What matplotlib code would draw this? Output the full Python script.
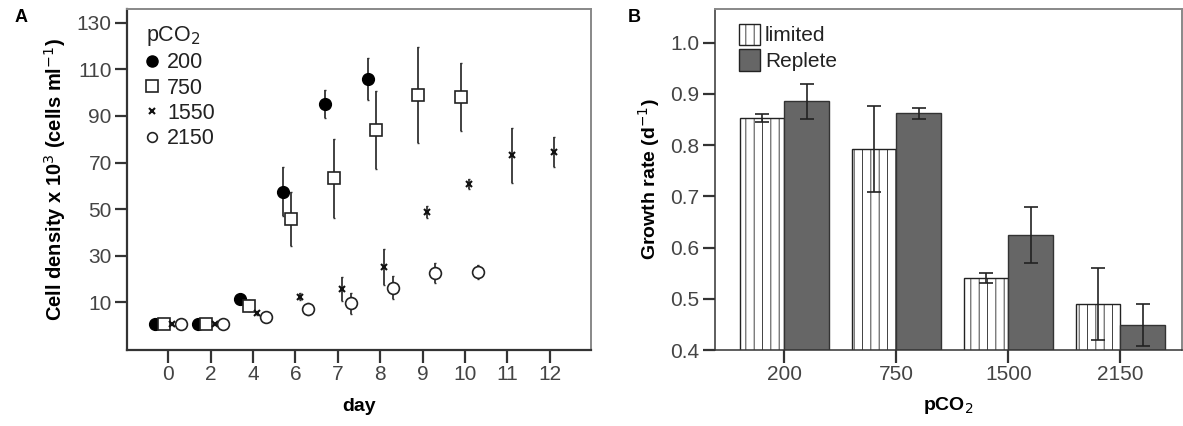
import numpy as np
import matplotlib.pyplot as plt
from matplotlib.lines import Line2D
from matplotlib.patches import Patch

plt.rcParams['font.family'] = ['Liberation Sans', 'DejaVu Sans']
plt.rcParams['hatch.linewidth'] = 0.6
plt.rcParams['hatch.color'] = '#a0a0a0'

# Panel A: cell density per sampling day
days = ['0', '2', '4', '6', '7', '8', '9', '10', '11', '12']

d200 = [0.5, 0.5, 11.5, 57.5, 95.0, 106.0]
e200 = [0.5, 0.5, 0.5, 10.5, 6.0, 9.0]
d750 = [0.5, 0.5, 8.5, 45.7, 63.3, 84.0, 99.0, 98.0]
e750 = [0.5, 0.5, 2.5, 11.7, 17.0, 16.7, 20.6, 14.6]
d1550 = [0.5, 0.5, 5.3, 12.2, 15.6, 25.0, 48.7, 60.8, 73.2, 74.5]
e1550 = [0.3, 0.3, 1.0, 1.5, 5.3, 7.7, 2.5, 2.0, 11.8, 6.3]
d2150 = [0.5, 0.5, 3.5, 7.0, 9.5, 16.2, 22.5, 23.0]
e2150 = [0.5, 0.5, 1.0, 2.5, 4.5, 5.0, 4.3, 3.0]

# Panel B: growth rates
pco2 = ['200', '750', '1500', '2150']
limited = [0.853, 0.792, 0.540, 0.490]
limited_err = [0.008, 0.084, 0.010, 0.071]
replete = [0.886, 0.862, 0.625, 0.449]
replete_err = [0.034, 0.010, 0.055, 0.041]

fig = plt.figure(figsize=(11.83, 4.26), dpi=100)
axA = fig.add_axes([0.1074, 0.1784, 0.3922, 0.8005])
axB = fig.add_axes([0.6044, 0.1784, 0.3948, 0.8005])

tick_col = '#444444'

series = [
    (d200, e200, -0.30, dict(marker='o', ms=8.5, mfc='black', mec='black')),
    (d750, e750, -0.10, dict(marker='s', ms=9, mfc='white', mec='#222222', mew=1.2)),
    (d1550, e1550, 0.10, dict(marker='x', ms=5, mec='#111111', mew=1.5)),
    (d2150, e2150, 0.30, dict(marker='o', ms=8.5, mfc='white', mec='#222222', mew=1.2)),
]
for vals, errs, off, style in series:
    x = np.arange(len(vals)) + off
    axA.errorbar(x, vals, yerr=errs, fmt='none', ecolor='#333333', elinewidth=1.3, capsize=1, zorder=2)
    axA.plot(x, vals, linestyle='none', zorder=3, **style)

axA.set_xlim(-0.97, 9.97)
axA.set_ylim(-10.6, 136)
axA.set_xticks(range(len(days)))
axA.set_xticklabels(days)
axA.set_yticks([10, 30, 50, 70, 90, 110, 130])
axA.set_xlabel('day', fontsize=14, fontweight='bold', labelpad=10)
axA.set_ylabel('Cell density x 10$^{3}$ (cells ml$^{-1}$)', fontsize=14.5, fontweight='bold', labelpad=6)

handles = [
    Line2D([], [], linestyle='none', marker='o', ms=8, mfc='black', mec='black'),
    Line2D([], [], linestyle='none', marker='s', ms=8, mfc='white', mec='#222222', mew=1.2),
    Line2D([], [], linestyle='none', marker='x', ms=5, mec='#111111', mew=1.5),
    Line2D([], [], linestyle='none', marker='o', ms=7, mfc='white', mec='#222222', mew=1.2),
]
legA = axA.legend(handles, ['200', '750', '1550', '2150'], title='pCO$_2$', loc='upper left',
                  frameon=False, fontsize=15.5, title_fontsize=15.5, handlelength=0.6,
                  handletextpad=0.4, labelspacing=0.2, borderaxespad=0.3,
                  bbox_to_anchor=(0.008, 1.0))
legA._legend_box.align = 'left'
for t in legA.get_texts():
    t.set_color('#222222')
legA.get_title().set_color('#222222')

# grouped bars
x = np.arange(len(pco2))
w = 0.4
axB.bar(x - w / 2, limited, w, color='white', edgecolor='#222222', hatch='||',
        linewidth=1.0, zorder=2)
axB.bar(x + w / 2, replete, w, color='#666666', edgecolor='#333333', linewidth=1.0, zorder=2)
axB.errorbar(x - w / 2, limited, yerr=limited_err, fmt='none', ecolor='#222222',
             elinewidth=1.2, capsize=5, capthick=1.2, zorder=3)
axB.errorbar(x + w / 2, replete, yerr=replete_err, fmt='none', ecolor='#222222',
             elinewidth=1.2, capsize=5, capthick=1.2, zorder=3)
axB.set_xlim(-0.62, 3.55)
axB.set_ylim(0.4, 1.066)
axB.set_xticks(x)
axB.set_xticklabels(pco2)
axB.set_yticks([0.4, 0.5, 0.6, 0.7, 0.8, 0.9, 1.0])
axB.set_yticklabels(['0.4', '0.5', '0.6', '0.7', '0.8', '0.9', '1.0'])
axB.set_xlabel('pCO$_2$', fontsize=14, fontweight='bold', labelpad=8)
axB.set_ylabel('Growth rate (d$^{-1}$)', fontsize=14, fontweight='bold', labelpad=6)

legB = axB.legend([Patch(facecolor='white', edgecolor='#222222', hatch='||'),
                   Patch(facecolor='#666666', edgecolor='#222222')],
                  ['limited', 'Replete'], loc='upper left', frameon=False, fontsize=15,
                  handlelength=1.0, handleheight=1.2, handletextpad=0.25, labelspacing=0.2,
                  borderaxespad=0.3, bbox_to_anchor=(0.02, 1.0))
for t in legB.get_texts():
    t.set_color('#222222')

for ax, lw in ((axA, 1.6), (axB, 1.1)):
    ax.tick_params(axis='both', direction='out', length=9, width=1.6, colors='#333333',
                   labelsize=15, labelcolor=tick_col, pad=2)
    ax.spines['left'].set_color('#333333')
    ax.spines['bottom'].set_color('#333333')
    ax.spines['left'].set_linewidth(lw)
    ax.spines['bottom'].set_linewidth(lw)
    for side in ('top', 'right'):
        ax.spines[side].set_color('#888888')
        ax.spines[side].set_linewidth(1.4)

fig.text(15 / 1183, 1 - 18 / 426, 'A', fontsize=13, fontweight='bold', va='center')
fig.text(628 / 1183, 1 - 18 / 426, 'B', fontsize=13, fontweight='bold', va='center')

fig.savefig('out.png', dpi=100)
